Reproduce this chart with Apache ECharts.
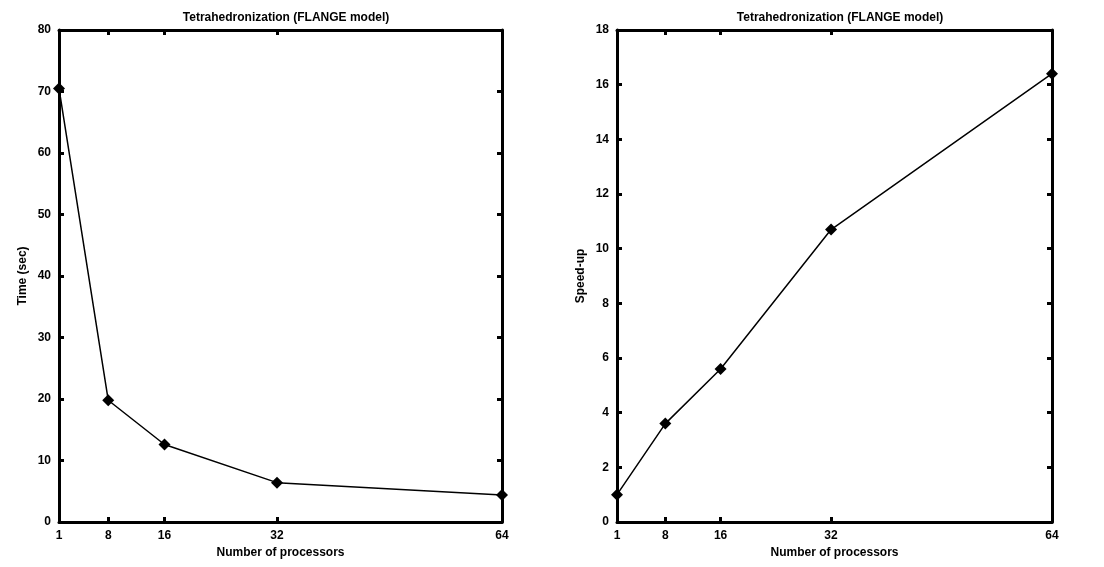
<!DOCTYPE html>
<html>
<head>
<meta charset="utf-8">
<script src="https://cdn.jsdelivr.net/npm/echarts@6/dist/echarts.min.js"></script>
<style>
  html, body { margin: 0; padding: 0; background: #fff; }
  #main { width: 1104px; height: 567px; }
</style>
</head>
<body>
<div id="main"></div>
<script>
// processors and measured values
const procs = [1, 8, 16, 32, 64];
const timeSec = [70.5, 19.8, 12.6, 6.4, 4.4];
const speedUp = [1, 3.6, 5.6, 10.7, 16.4];
const xLabels = [1, 8, 16, 32, 64];
const xTicks = [8, 16, 32];

const font = "Liberation Sans";
const chart = echarts.init(document.getElementById("main"));

const pairs = (ys) => procs.map((p, i) => [p, ys[i]]);

const lineStyle = { color: "#000", width: 3 };

function xAxes(grid) {
  return [
    {
      type: "value", gridIndex: grid, min: 1, max: 64, position: "bottom",
      name: "Number of processors", nameLocation: "middle", nameGap: 22,
      nameTextStyle: { fontFamily: font, fontWeight: "bold", fontSize: 12, color: "#000" },
      axisLine: { onZero: false, lineStyle: lineStyle },
      axisTick: { show: true, inside: true, length: 5, customValues: xTicks, lineStyle: { color: "#000", width: 3 } },
      axisLabel: { customValues: xLabels, fontFamily: font, fontWeight: "bold", fontSize: 12, color: "#000", margin: 8 },
      splitLine: { show: false }
    },
    {
      type: "value", gridIndex: grid, min: 1, max: 64, position: "top",
      axisLine: { onZero: false, lineStyle: lineStyle },
      axisTick: { show: true, inside: true, length: 5, customValues: xTicks, lineStyle: { color: "#000", width: 3 } },
      axisLabel: { show: false },
      splitLine: { show: false }
    }
  ];
}

function yAxes(grid, max, interval, name) {
  return [
    {
      type: "value", gridIndex: grid, min: 0, max: max, interval: interval, position: "left",
      name: name, nameLocation: "middle", nameGap: 30, nameRotate: 90,
      nameTextStyle: { fontFamily: font, fontWeight: "bold", fontSize: 12, color: "#000" },
      axisLine: { show: true, onZero: false, lineStyle: lineStyle },
      axisTick: { show: true, inside: true, length: 5, lineStyle: { color: "#000", width: 3 } },
      axisLabel: { fontFamily: font, fontWeight: "bold", fontSize: 12, color: "#000", margin: 8 },
      splitLine: { show: false }
    },
    {
      type: "value", gridIndex: grid, min: 0, max: max, interval: interval, position: "right",
      axisLine: { show: true, onZero: false, lineStyle: lineStyle },
      axisTick: { show: true, inside: true, length: 5, lineStyle: { color: "#000", width: 3 } },
      axisLabel: { show: false },
      splitLine: { show: false }
    }
  ];
}

const titleStyle = { fontFamily: font, fontWeight: "bold", fontSize: 12, color: "#000" };

const option = {
  animation: false,
  backgroundColor: "#fff",
  title: [
    { text: "Tetrahedronization (FLANGE model)", left: 281, top: 7, textAlign: "center", textStyle: titleStyle },
    { text: "Tetrahedronization (FLANGE model)", left: 835, top: 7, textAlign: "center", textStyle: titleStyle }
  ],
  grid: [
    { left: 59, top: 30, width: 443, height: 492 },
    { left: 617, top: 30, width: 435, height: 492 }
  ],
  xAxis: [...xAxes(0), ...xAxes(1)],
  yAxis: [...yAxes(0, 80, 10, "Time (sec)"), ...yAxes(1, 18, 2, "Speed-up")],
  series: [
    {
      type: "line", xAxisIndex: 0, yAxisIndex: 0, data: pairs(timeSec),
      symbol: "diamond", symbolSize: 12,
      lineStyle: { color: "#000", width: 1.5 }, itemStyle: { color: "#000" }
    },
    {
      type: "line", xAxisIndex: 2, yAxisIndex: 2, data: pairs(speedUp),
      symbol: "diamond", symbolSize: 12,
      lineStyle: { color: "#000", width: 1.5 }, itemStyle: { color: "#000" }
    }
  ]
};

chart.setOption(option);
</script>
</body>
</html>
